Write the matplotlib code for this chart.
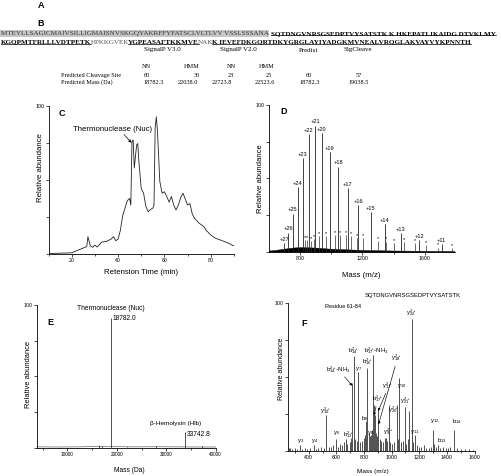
import matplotlib
matplotlib.use('Agg')
import matplotlib.pyplot as plt
from matplotlib.lines import Line2D

W, H = 501, 476
SANS = 'Liberation Sans'
SERIF = 'Liberation Serif'
plt.rcParams['font.family'] = SANS
plt.rcParams['mathtext.fontset'] = 'custom'
plt.rcParams['mathtext.rm'] = SANS
plt.rcParams['mathtext.it'] = SANS + ':italic'
plt.rcParams['mathtext.bf'] = SANS + ':bold'

# ---- A: sequence
seq_line1 = [("MTEYLLSAGICMAIVSILLIGMAISNVSKGQYAKRFFYFATSCLVLTLVV VSSLSSSANA", 'sig'),
             ("SQTDNGVNRSGSEDPTVYSATSTK K HKEPATLIKAIDG DTVKLMY", 'hit')]
seq_line2 = [("KGQPMTFRLLLVDTPETK", 'hit'), ("HPKKGVEK", 'plain'),
             ("YGPEASAFTKKMVE", 'hit'), ("NAK", 'plain'),
             ("K IEVEFDKGQRTDKYGRGLAYIYADGKMVNEALVRQGLAKVAYVYKPNNTH", 'hit')]

# ---- B: predictions
b_tools = ['SignalP V3.0', 'SignalP V2.0', 'Predisi', 'SigCleave']
b_methods = ['NN', 'HMM', 'NN', 'HMM']
b_sites = ['60', '30', '23', '25', '60', '57']
b_masses = ['18782.3', '22038.0', '22723.8', '22523.6', '18782.3', '19038.5']

# ---- C: chromatogram
c_time = [10, 20, 24, 26.5, 27, 28, 29, 30, 31, 33, 35, 37, 38, 39, 40, 41, 42, 43, 44, 45,
          45.5, 46, 46.5, 47, 48, 48.5, 49, 50, 51, 52, 53, 54, 55, 55.5, 56, 56.5, 57, 58, 59, 60,
          61, 62, 63, 64, 65, 66, 67, 68, 69, 70, 71, 72, 73, 75, 77, 78, 80, 82, 84, 86, 88, 90]
c_abund = [0.3, 0.8, 3.4, 5, 11.7, 5.6, 4.5, 6, 4.7, 8, 8.5, 10, 11.7, 9, 10, 16, 26, 31, 36, 37.5,
           33, 75.5, 77, 58, 73.5, 74.5, 62, 44, 41, 32, 28.5, 30, 31, 33, 85, 92.5, 82.5, 49, 41, 42,
           38.7, 35, 38.7, 33, 29.7, 33, 38, 41, 37, 33, 34, 27, 24, 20.7, 18.5, 16, 12.8, 10.6, 9.5, 8.3, 7, 5.4]

# ---- D: ESI charge envelope
d_charge = [27, 26, 25, 24, 23, 22, 21, 20, 19, 18, 17, 16, 15, 14, 13, 12, 11]
d_mz = [696.6, 723.4, 752.3, 783.6, 817.6, 854.7, 895.4, 940.1, 989.5, 1044.5, 1105.8,
        1174.9, 1253.1, 1342.6, 1445.8, 1566.2, 1708.5]
d_int = [6, 13, 26, 44, 64, 80, 86, 81, 68, 58, 43.6, 32, 27, 19, 12.5, 8, 5.2]
d_star_mz = [829, 844, 870, 891, 919, 968, 1026, 1058, 1094, 1126, 1165, 1203,
             1300, 1351, 1402, 1468, 1535, 1608, 1688, 1776]
d_star_int = [7.7, 8, 7.3, 8.4, 10.5, 10.7, 11.4, 11.1, 11.1, 10.7, 9.1, 9.1,
              7.3, 6.8, 5.7, 6.6, 5.7, 4.3, 2.7, 2.5]
d_base_mz = [600, 640, 680, 720, 760, 800, 850, 900, 950, 1000, 1100, 1200, 1300, 1400, 1500, 1600, 1700, 1790]
d_base_int = [0.8, 1.2, 1.8, 2.4, 2.9, 3.1, 3.0, 2.8, 2.4, 2.0, 1.6, 1.2, 1.0, 0.8, 0.7, 0.6, 0.5, 0.5]

# ---- E: deconvoluted mass
e_mass = [16500, 17100, 18782.0, 22000, 28000, 33742.8, 37300]
e_int = [2.0, 1.3, 91.0, 0.8, 0.9, 11.0, 1.2]
e_base_mass = [3800, 8000, 12000, 16000, 20000, 24000, 28000, 32000, 36000, 40000]
e_base_int = [0.6, 0.5, 0.6, 0.8, 0.7, 0.6, 0.7, 0.6, 0.5, 0.5]

# ---- F: MS/MS of residue 61-84
f_mz = [240, 255, 268, 282, 300, 318, 335, 350, 372, 390, 410, 436, 455, 470, 490, 510, 528, 545,
        560, 578, 594, 610, 627, 640, 652, 667, 680, 695, 705, 716, 724, 738, 750, 757, 770, 785,
        800, 808, 816, 823, 835, 845, 851, 857, 864, 870, 876, 885, 893, 900, 912, 925, 940, 950,
        957, 965, 978, 990, 1005, 1020, 1035, 1045, 1055, 1065, 1080, 1093, 1105, 1115, 1128, 1143.6,
        1155, 1170, 1185, 1200, 1215, 1232, 1250, 1270, 1285, 1299, 1305, 1320, 1333, 1350, 1370,
        1390, 1410, 1425, 1448, 1470, 1500, 1530, 1560, 1585]
f_int = [3, 2, 2, 1.5, 2, 1.5, 4, 1.5, 2, 1.5, 2, 4, 1.5, 2, 2.5, 2, 24, 2.5,
         3, 4, 8, 3, 5, 4, 6, 8, 5, 6, 9, 46, 64, 8, 7, 53, 6, 7,
         9, 11, 20, 56, 12, 10, 11, 14, 65, 31, 24, 12, 10, 29, 8, 7, 6, 9,
         9, 7, 31, 6, 5, 6, 31, 8, 49, 6, 7, 30, 5, 8, 27, 89,
         6, 11, 4, 3, 3, 4, 2, 2, 3, 14, 5, 3, 4, 2, 3,
         2, 2, 3, 14, 2, 1.5, 1.5, 1.5, 1]

fig = plt.figure(figsize=(W / 100, H / 100), dpi=100)
renderer = fig.canvas.get_renderer()


def ftxt(x, y, s, **kw):
    return fig.text(x / W, 1 - y / H, s, **kw)


def px_axes(left, top, right, bottom):
    ax = fig.add_axes([left / W, 1 - bottom / H, (right - left) / W, (bottom - top) / H])
    for s in ('top', 'right'):
        ax.spines[s].set_visible(False)
    for s in ('left', 'bottom'):
        ax.spines[s].set_linewidth(0.6)
    ax.set_ylim(0, 100)
    ax.set_yticks([0, 25, 50, 75, 100])
    ax.set_yticklabels(['', '', '', '', '100'])
    ax.tick_params(which='both', direction='out', width=0.5, labelsize=3.8, pad=1)
    ax.tick_params(which='major', length=2)
    ax.tick_params(which='minor', length=1.2)
    ax.patch.set_visible(False)
    return ax


def set_xticks(ax, major, minor, size=3.8):
    ax.set_xticks(major)
    ax.set_xticklabels([str(v) for v in major], fontsize=size)
    ax.set_xticks(minor, minor=True)


# ---------------- A
ftxt(41.3, 6, 'A', fontsize=6.5, fontweight='bold', ha='center', va='center')


def seg_width(s, kind, size):
    t = fig.text(0, 0, s, fontsize=size, family=SERIF,
                 fontweight='bold' if kind == 'hit' else 'normal')
    w = t.get_window_extent(renderer).width
    t.remove()
    return w


gap = 2.0
w10 = sum(seg_width(s, k, 10) for s, k in seq_line1)
seq_size = 10 * (498 - gap) / w10


def draw_seq(segs, x, y, size, gaps):
    for (s, kind), g in zip(segs, gaps):
        t = ftxt(x, y, s, fontsize=size, family=SERIF, ha='left', va='center',
                 fontweight='bold' if kind == 'hit' else 'normal',
                 color={'hit': 'black', 'plain': '#555555', 'sig': '#333333'}[kind])
        if kind == 'sig':
            t.set_bbox(dict(facecolor='#c6c6c6', edgecolor='none', pad=0.4))
        bb = t.get_window_extent(renderer)
        if kind == 'hit':
            yy = (bb.y0 + 0.9) / H
            fig.add_artist(Line2D([bb.x0 / W, bb.x1 / W], [yy, yy], color='black', lw=0.5))
        x += bb.width + g


draw_seq(seq_line1, 1, 33.5, seq_size, [gap, 0])
draw_seq(seq_line2, 1, 42.3, seq_size, [-0.8, -0.8, -0.8, -0.8, 0])

# ---------------- B
ftxt(41, 23.7, 'B', fontsize=6.5, fontweight='bold', ha='center', va='center')
for name, x in zip(b_tools, [162, 238.5, 308.5, 357.8]):
    ftxt(x, 50, name, fontsize=5.0, family=SERIF, ha='center', va='center')
for name, x in zip(b_methods, [146.7, 191.7, 231, 266.7]):
    ftxt(x, 66, name, fontsize=4.5, family=SERIF, ha='center', va='center')
ftxt(60.7, 75.7, 'Predicted Cleavage Site', fontsize=4.5, family=SERIF, ha='left', va='center')
ftxt(60.7, 82.3, 'Predicted Mass (Da)', fontsize=4.5, family=SERIF, ha='left', va='center')
for v, x in zip(b_sites, [147, 196.7, 231, 269.3, 309.3, 358.3]):
    ftxt(x, 75.7, v, fontsize=4.5, family=SERIF, ha='center', va='center')
for v, x in zip(b_masses, [153.3, 187.7, 221.7, 265, 310, 358.3]):
    ftxt(x, 82.3, v, fontsize=4.5, family=SERIF, ha='center', va='center')

# ---------------- C
axC = px_axes(48.5, 105.7, 234, 254)
axC.plot(c_time, c_abund, color='#222222', lw=0.6)
axC.set_xlim(10, 90)
set_xticks(axC, [20, 40, 60, 80], [10, 30, 50, 70, 90])
axC.set_xlabel('Retension Time (min)', fontsize=5.6)
axC.xaxis.set_label_coords(0.50, -0.103)
axC.set_ylabel('Relative abundance', fontsize=5.6)
axC.yaxis.set_label_coords(-0.024, 0.58)
axC.text(15.9, 94.7, 'C', fontsize=6.5, fontweight='bold', ha='center', va='center')
axC.text(37.8, 84, 'Thermonuclease (Nuc)', fontsize=5.6, ha='center', va='center')
axC.annotate('', xy=(45.8, 75), xytext=(42.6, 80.5),
             arrowprops=dict(arrowstyle='-|>', lw=0.5, color='black', mutation_scale=4,
                             shrinkA=0, shrinkB=0))

# ---------------- D
axD = px_axes(269, 105, 455, 251.7)
axD.fill_between(d_base_mz, 0, d_base_int, color='black', lw=0.3)
axD.vlines(d_star_mz, 0, d_star_int, color='#333333', lw=0.5)
axD.vlines(d_mz, 0, d_int, color='#222222', lw=0.6)
for z, mz, h in zip(d_charge, d_mz, d_int):
    axD.text(mz, h + 0.8, '+%d' % z, fontsize=4.1, ha='center', va='bottom')
for mz, h in zip(d_star_mz, d_star_int):
    axD.text(mz, h + 0.2, '*', fontsize=4, ha='center', va='bottom')
axD.set_xlim(600, 1795)
set_xticks(axD, [800, 1200, 1600], [1000, 1400])
axD.set_xlabel('Mass (m/z)', fontsize=5.6)
axD.xaxis.set_label_coords(0.498, -0.138)
axD.set_ylabel('Relative abundance', fontsize=5.6)
axD.yaxis.set_label_coords(-0.027, 0.50)
axD.text(694, 95.4, 'D', fontsize=6.5, fontweight='bold', ha='center', va='center')

# ---------------- E
axE = px_axes(36.7, 305, 215.7, 447.7)
axE.plot(e_base_mass, e_base_int, color='#666666', lw=0.5)
axE.vlines(e_mass, 0, e_int, color='#333333', lw=0.6)
axE.set_xlim(3800, 40000)
set_xticks(axE, [10000, 20000, 30000, 40000], [5000, 15000, 25000, 35000], size=3.4)
axE.set_xlabel('Mass (Da)', fontsize=4.8)
axE.xaxis.set_label_coords(0.516, -0.135)
axE.set_ylabel('Relative abundance', fontsize=5.4)
axE.yaxis.set_label_coords(-0.026, 0.516)
axE.text(6550, 88, 'E', fontsize=6.5, fontweight='bold', ha='center', va='center')
axE.text(18782, 97.5, 'Thermonuclease (Nuc)', fontsize=4.8, ha='center', va='center')
axE.text(19180, 90.2, '18782.0', fontsize=4.8, ha='left', va='center')
axE.text(31966, 17.1, '\u03b2-Hemolysin (Hlb)', fontsize=4.6, ha='center', va='center')
axE.text(34230, 9.4, '33742.8', fontsize=4.8, ha='left', va='center')

# ---------------- F
axF = px_axes(288, 302.7, 474.6, 451)
axF.vlines(f_mz, 0, f_int, color='#222222', lw=0.55)
axF.set_xlim(250, 1600)
set_xticks(axF, list(range(400, 1601, 200)), list(range(300, 1600, 200)))
axF.set_xlabel('Mass (m/z)', fontsize=4.6)
axF.xaxis.set_label_coords(0.457, -0.12)
axF.set_ylabel('Relative abundance', fontsize=5.0)
axF.yaxis.set_label_coords(-0.018, 0.553)
axF.text(365, 85.8, 'F', fontsize=6.5, fontweight='bold', ha='center', va='center')
axF.text(651, 97.3, 'Residue 61-84', fontsize=4.0, ha='center', va='center')
ftxt(413, 295, 'SQTDNGVNRSGSEDPTVYSATSTK', fontsize=4.2, ha='center', va='center')

f_labels = [
    (r'$\mathrm{y}_{22}^{2+}$', 1143.6, 93),
    (r'$\mathrm{b}_{14}^{2+}$', 722, 68),
    (r'$\mathrm{b}_{17}^{2+}$-NH$_3$', 888, 68),
    (r'$\mathrm{b}_{16}^{2+}$', 821, 60),
    (r'$\mathrm{y}_{7}$', 762, 55),
    (r'$\mathrm{b}_{14}^{2+}$-NH$_3$', 612, 55),
    (r'$\mathrm{y}_{18}^{2+}$', 1030, 63),
    (r'$\mathrm{y}_{17}^{2+}$', 967, 44),
    (r'$\mathrm{y}_{10}$', 1070, 44),
    (r'$\mathrm{b}_{17}^{2+}$', 897, 35),
    (r'$\mathrm{y}_{20}^{2+}$', 1012, 28),
    (r'$\mathrm{y}_{21}^{2+}$', 1096, 34),
    (r'$\mathrm{y}_{10}^{2+}$', 522, 27),
    (r'$\mathrm{b}_{8}$', 808, 22),
    (r'$\mathrm{y}_{3}$', 339, 7),
    (r'$\mathrm{y}_{4}$', 440, 6.5),
    (r'$\mathrm{y}_{6}$', 598, 12),
    (r'$\mathrm{b}_{13}^{2+}$', 687, 11),
    (r'$\mathrm{y}_{8}$', 844, 12),
    (r'$\mathrm{y}_{9}^{2+}$', 972, 13),
    (r'$\mathrm{y}_{11}$', 1169, 13),
    (r'$\mathrm{y}_{12}$', 1313, 20),
    (r'$\mathrm{b}_{13}$', 1362, 7),
    (r'$\mathrm{b}_{14}$', 1470, 20),
]
for s, mz, h in f_labels:
    axF.text(mz, h, s, fontsize=4.3, ha='center', va='center')
f_arrows = [((660, 50), (714, 44)), ((1025, 57), (905, 18)), ((957, 39), (903, 27)),
            ((887, 30), (873, 24))]
for (x0, y0), (x1, y1) in f_arrows:
    axF.annotate('', xy=(x1, y1), xytext=(x0, y0),
                 arrowprops=dict(arrowstyle='-|>', lw=0.45, color='black', mutation_scale=3.5,
                                 shrinkA=0, shrinkB=0))

fig.savefig('out.png', dpi=100)
